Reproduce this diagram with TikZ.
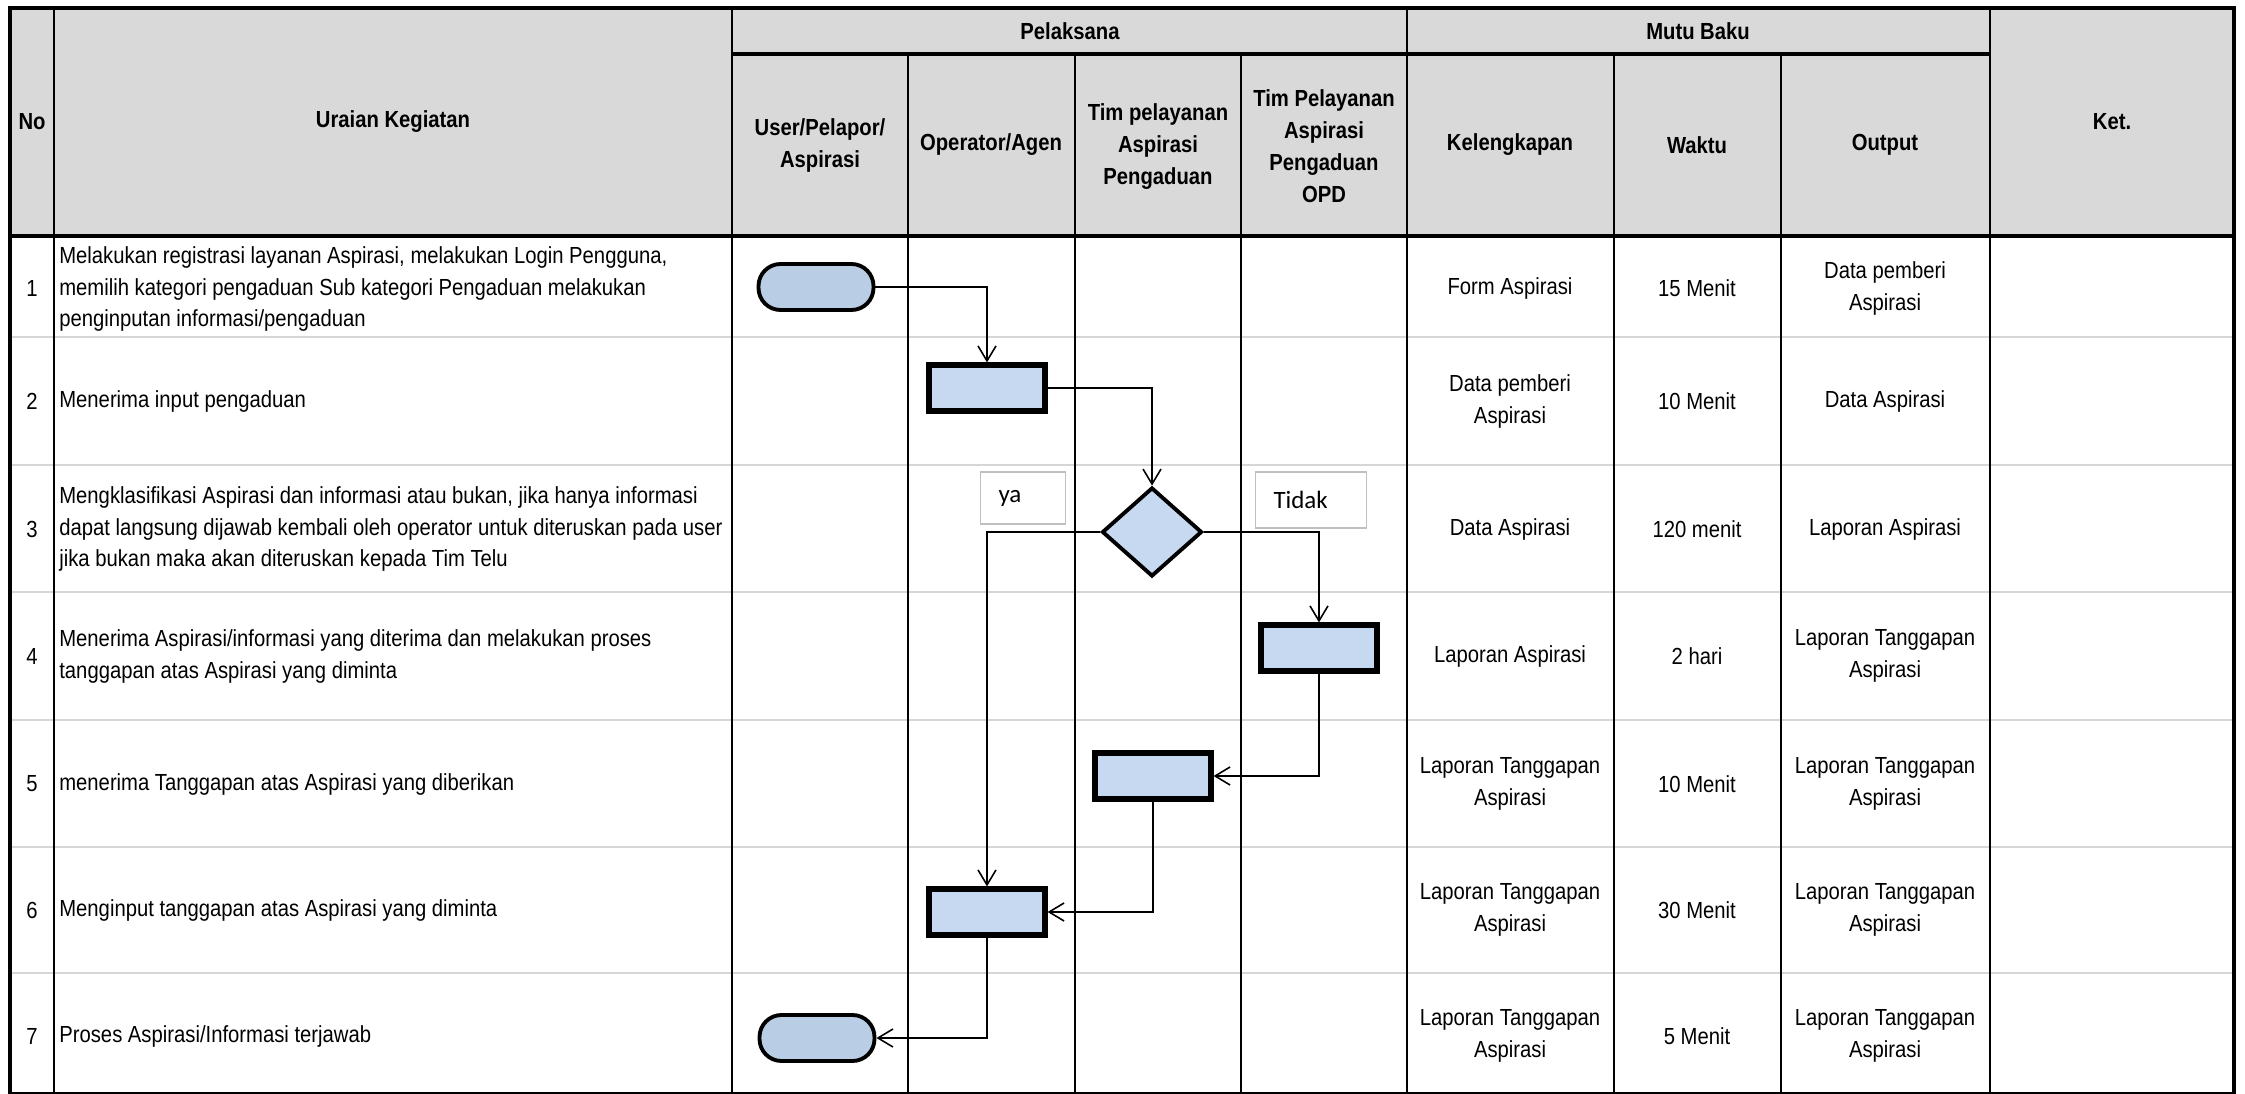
\documentclass[tikz,border=0pt]{standalone}
\usepackage{fontspec}
\setmainfont{Liberation Sans}[FakeStretch=0.87]
\newfontfamily\labelfont{Carlito}
\usetikzlibrary{arrows.meta,shapes.geometric}
\definecolor{sopgray}{HTML}{D9D9D9}
\definecolor{sopline}{HTML}{D6D6D6}
\definecolor{soptermfill}{HTML}{B9CDE5}
\definecolor{sopboxfill}{HTML}{C6D9F1}
\definecolor{soplabel}{HTML}{BFBFBF}
\newcommand\cellfont{\fontsize{13.25}{18.2}\selectfont}
\tikzset{
  headtext/.style={font=\cellfont\bfseries, align=center, inner sep=0pt},
  celltext/.style={font=\cellfont, align=center, inner sep=0pt},
  desctext/.style={font=\cellfont, align=left, anchor=west, inner sep=0pt},
  frameline/.style={line width=2.8pt},
  colline/.style={line width=1.4pt},
  rowline/.style={draw=sopline, line width=1.7pt},
  terminal/.style={draw, line width=2.2pt, fill=soptermfill, rounded corners=0.44cm,
    minimum width=2.30cm, minimum height=0.92cm, inner sep=0pt},
  process/.style={draw, line width=3.2pt, fill=sopboxfill,
    minimum width=2.31cm, minimum height=0.91cm, inner sep=0pt},
  decision/.style={draw, diamond, line width=2.2pt, fill=sopboxfill,
    minimum width=2.0cm, minimum height=1.78cm, inner sep=0pt},
  choice/.style={draw=soplabel, line width=0.8pt, fill=white, align=left,
    inner xsep=0.36cm, inner ysep=0pt, minimum height=1.04cm,
    font=\labelfont\fontsize{14.2}{17}\selectfont},
  flow/.style={-{Straight Barb[length=3mm,width=3.6mm]}, line width=0.9pt}
}
\begin{document}
\begin{tikzpicture}[x=0.02cm, y=-0.02cm]
  \useasboundingbox (0,0) rectangle (2245,1094);
  % header band and grid
  \fill[sopgray] (10,8) rectangle (2234,236);
  \foreach \y in {337,465,592,720,847,973}
    \draw[rowline] (10,\y) -- (2234,\y);
  \foreach \x in {54,732,1407,1990}
    \draw[colline] (\x,8) -- (\x,1094);
  \foreach \x in {908,1075,1241,1614,1781}
    \draw[colline] (\x,54) -- (\x,1094);
  \draw[colline, line width=1.9pt] (732,54) -- (1990,54);
  \draw[frameline, line width=2.3pt] (10,236) -- (2234,236);
  \draw[frameline] (10,8) rectangle (2234,1094);

  % header
  \node[headtext] (hno) at (32,122) {No};
  \node[headtext] (hdesc) at (393,122) {Uraian Kegiatan};
  \node[headtext] (hexec) at (1070,31) {Pelaksana};
  \node[headtext] (hstd) at (1698,31) {Mutu Baku};
  \node[headtext] (hnote) at (2112,122) {Ket.};
  \node[headtext] (huser) at (820,145) {User/Pelapor/\\Aspirasi};
  \node[headtext] (hop) at (991,145) {Operator/Agen};
  \node[headtext] (htim) at (1158,147) {Tim pelayanan\\Aspirasi\\Pengaduan};
  \node[headtext] (hopd) at (1324,146) {Tim Pelayanan\\Aspirasi\\Pengaduan\\OPD};
  \node[headtext] (hkel) at (1510,145) {Kelengkapan};
  \node[headtext] (hwkt) at (1697,145) {Waktu};
  \node[headtext] (hout) at (1885,145) {Output};

  % row 1
  \node[celltext] (n1) at (32,288) {1};
  \node[desctext] (d1) at (59,289) {Melakukan registrasi layanan Aspirasi, melakukan Login Pengguna,\\memilih kategori pengaduan Sub kategori Pengaduan melakukan\\penginputan informasi/pengaduan};
  \node[celltext] (k1) at (1510,288) {Form Aspirasi};
  \node[celltext] (w1) at (1697,288) {15 Menit};
  \node[celltext] (o1) at (1885,288) {Data pemberi\\Aspirasi};
  % row 2
  \node[celltext] (n2) at (32,401) {2};
  \node[desctext] (d2) at (59,401) {Menerima input pengaduan};
  \node[celltext] (k2) at (1510,401) {Data pemberi\\Aspirasi};
  \node[celltext] (w2) at (1697,401) {10 Menit};
  \node[celltext] (o2) at (1885,401) {Data Aspirasi};
  % row 3
  \node[celltext] (n3) at (32,529) {3};
  \node[desctext] (d3) at (59,529) {Mengklasifikasi Aspirasi dan informasi atau bukan, jika hanya informasi\\dapat langsung dijawab kembali oleh operator untuk diteruskan pada user\\jika bukan maka akan diteruskan kepada Tim Telu};
  \node[celltext] (k3) at (1510,529) {Data Aspirasi};
  \node[celltext] (w3) at (1697,529) {120 menit};
  \node[celltext] (o3) at (1885,529) {Laporan Aspirasi};
  % row 4
  \node[celltext] (n4) at (32,656) {4};
  \node[desctext] (d4) at (59,656) {Menerima Aspirasi/informasi yang diterima dan melakukan proses\\tanggapan atas Aspirasi yang diminta};
  \node[celltext] (k4) at (1510,656) {Laporan Aspirasi};
  \node[celltext] (w4) at (1697,656) {2 hari};
  \node[celltext] (o4) at (1885,656) {Laporan Tanggapan\\Aspirasi};
  % row 5
  \node[celltext] (n5) at (32,784) {5};
  \node[desctext] (d5) at (59,784) {menerima Tanggapan atas Aspirasi yang diberikan};
  \node[celltext] (k5) at (1510,784) {Laporan Tanggapan\\Aspirasi};
  \node[celltext] (w5) at (1697,784) {10 Menit};
  \node[celltext] (o5) at (1885,784) {Laporan Tanggapan\\Aspirasi};
  % row 6
  \node[celltext] (n6) at (32,910) {6};
  \node[desctext] (d6) at (59,910) {Menginput tanggapan atas Aspirasi yang diminta};
  \node[celltext] (k6) at (1510,910) {Laporan Tanggapan\\Aspirasi};
  \node[celltext] (w6) at (1697,910) {30 Menit};
  \node[celltext] (o6) at (1885,910) {Laporan Tanggapan\\Aspirasi};
  % row 7
  \node[celltext] (n7) at (32,1036) {7};
  \node[desctext] (d7) at (59,1036) {Proses Aspirasi/Informasi terjawab};
  \node[celltext] (k7) at (1510,1036) {Laporan Tanggapan\\Aspirasi};
  \node[celltext] (w7) at (1697,1036) {5 Menit};
  \node[celltext] (o7) at (1885,1036) {Laporan Tanggapan\\Aspirasi};

  % flow
  \node[terminal] (start) at (816,287) {};
  \node[process] (input) at (987,388) {};
  \node[decision] (classify) at (1152,532) {};
  \node[process] (opdreply) at (1319,648) {};
  \node[process] (timreply) at (1153,776) {};
  \node[process] (opinput) at (987,912) {};
  \node[terminal] (finish) at (817,1038) {};
  \node[choice, text width=0.98cm] (yes) at (1023,498) {ya};
  \node[choice, text width=1.5cm, minimum height=1.12cm] (no) at (1311,500) {Tidak};
  \draw[flow] (start.east) -| (input.north);
  \draw[flow] (input.east) -| (classify.north);
  \draw[flow] (classify.west) -| (opinput.north);
  \draw[flow] (classify.east) -| (opdreply.north);
  \draw[flow] (opdreply.south) |- (timreply.east);
  \draw[flow] (timreply.south) |- (opinput.east);
  \draw[flow] (opinput.south) |- (finish.east);
\end{tikzpicture}
\end{document}
